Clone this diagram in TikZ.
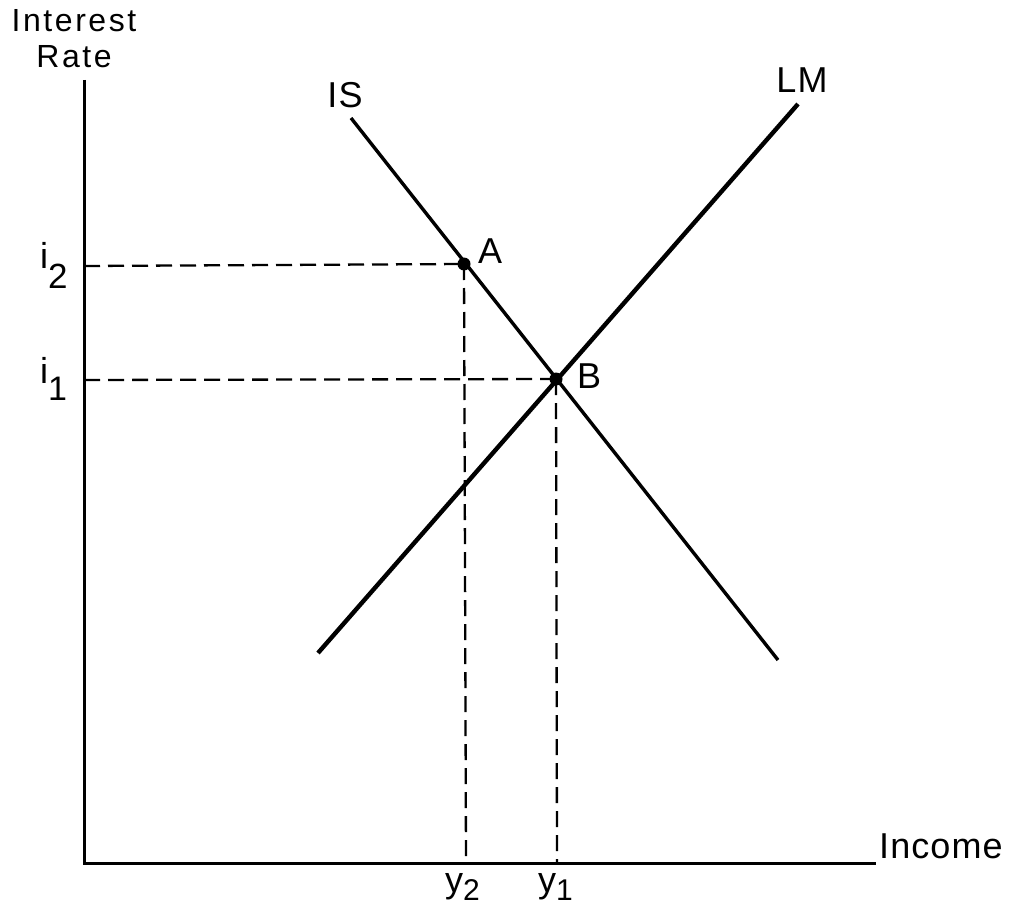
\documentclass[tikz,border=0pt]{standalone}
\usepackage{fontspec}
\setmainfont{Liberation Sans}[LetterSpace=3]
\newcommand{\subn}[3]{\raisebox{-#2pt}{\fontsize{#3}{#3}\selectfont #1}}
\begin{document}
\begin{tikzpicture}[x=1pt,y=-1pt,
  lbl/.style={font=\fontsize{36}{36}\selectfont, inner sep=0pt, anchor=base},
  axis/.style={line width=3pt},
  curve/.style={line width=3.4pt},
  guide/.style={line width=2.3pt, dash pattern=on 16pt off 8pt},
  dot/.style={circle, fill=black, inner sep=0pt, minimum size=13pt}]
\useasboundingbox (0,0) rectangle (1016,909);
% axes
\coordinate (O) at (84,863);
\coordinate (ytop) at (84,80);
\coordinate (xend) at (876,863);
\draw[axis] (ytop) -- (O) -- (xend);
% curves
\coordinate (IS1) at (351,118);
\coordinate (IS2) at (778,660);
\coordinate (LM1) at (318,653);
\coordinate (LM2) at (798,104);
\draw[curve] (IS1) -- (IS2);
\draw[curve, line width=4.4pt] (LM1) -- (LM2);
% points
\node[dot] (A) at (464,264) {};
\node[dot] (B) at (556,379) {};
% guides
\coordinate (i2) at (84,266);
\coordinate (i1) at (84,380);
\coordinate (y2) at (466,863);
\coordinate (y1) at (557,863);
\draw[guide] (i2) -- (A.center);
\draw[guide] (i1) -- (B.center);
\draw[guide] (A.center) -- (y2);
\draw[guide] (B.center) -- (y1);
% labels
\node[inner sep=0pt, anchor=north, align=center,
      font=\fontsize{32}{36}\selectfont\addfontfeature{LetterSpace=8}] (tIR) at (74,9) {Interest\\Rate};
\node[lbl, anchor=base west] (tInc) at (879,858) {Income};
\node[lbl] (tIS) at (345,108) {IS};
\node[lbl] (tLM) at (802,93) {LM};
\node[lbl] (tA) at (490,263) {A};
\node[lbl] (tB) at (589,388) {B};
\node[lbl, anchor=base west] (ti2) at (40,268) {i\subn{2}{20}{35}};
\node[lbl, anchor=base west] (ti1) at (40,383) {i\subn{1}{17}{34}};
\node[lbl, anchor=base west] (ty2) at (445,892) {y\subn{2}{8}{30}};
\node[lbl, anchor=base west] (ty1) at (538,892) {y\subn{1}{8}{30}};
\end{tikzpicture}
\end{document}
